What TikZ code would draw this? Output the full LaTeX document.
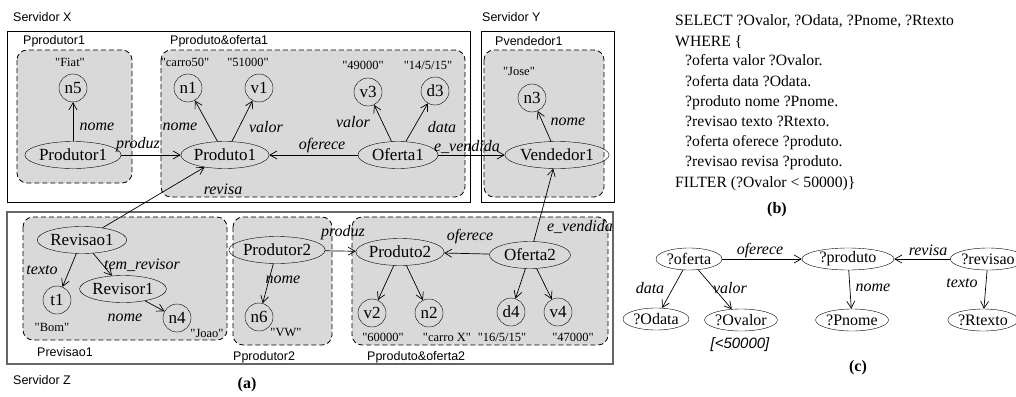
\documentclass[tikz,border=0pt]{standalone}
\usepackage{fontspec}
\setmainfont{Liberation Serif}
\setsansfont{Liberation Sans}
\newfontfamily\valfont{Liberation Serif}
\usetikzlibrary{shapes.geometric,arrows.meta}
\definecolor{partfill}{RGB}{217,217,217}
\begin{document}
\begin{tikzpicture}[x=1pt,y=-1pt,
  ell/.style={draw,ellipse,inner sep=0pt,minimum height=27pt,font=\fontsize{17}{20}\selectfont},
  qell/.style={draw,ellipse,inner sep=0pt,minimum height=22pt,font=\fontsize{16}{18}\selectfont},
  circ/.style={draw,circle,inner sep=0pt,minimum size=28pt,font=\fontsize{17}{20}\selectfont},
  arr/.style={-{Straight Barb[length=7pt,width=8pt]},line width=0.7pt},
  elab/.style={font=\fontsize{16}{18}\selectfont\itshape,inner sep=0pt},
  val/.style={font=\valfont\fontsize{12.5}{14}\selectfont,inner sep=0pt},
  slab/.style={font=\sffamily\fontsize{12.5}{14}\selectfont,inner sep=0pt,anchor=west},
  server/.style={draw,line width=0.8pt},
  serverz/.style={draw=black!60,line width=1.4pt},
  part/.style={draw,dash pattern=on 5pt off 3pt,fill=partfill,rounded corners=10pt,line width=0.8pt},
  code/.style={font=\fontsize{15.7}{18}\selectfont,inner sep=0pt,anchor=west,text height=11pt,text depth=3pt},
]
\useasboundingbox (0,0) rectangle (1016,396);

% servers
\draw[server] (7,31) rectangle (470,202);
\draw[server] (481,31) rectangle (614,202);
\draw[serverz] (7,212) rectangle (613,364);
\node[slab] (sx) at (13,17) {Servidor X};
\node[slab] (sy) at (482,17) {Servidor Y};
\node[slab] (sz) at (13,380) {Servidor Z};

% partitions
\draw[part] (17,50) rectangle (132,183);
\draw[part] (161,50) rectangle (465,197);
\draw[part] (484,50) rectangle (604,197);
\draw[part] (23,217) rectangle (227,340);
\draw[part] (233,217) rectangle (332,345);
\draw[part] (352,217) rectangle (608,345);
\node[slab] (lp1) at (23,41) {Pprodutor1};
\node[slab] (lpo1) at (170,41) {Pproduto\&oferta1};
\node[slab] (lpv1) at (495,41) {Pvendedor1};
\node[slab] (lr1) at (37,352) {Previsao1};
\node[slab] (lp2) at (233,357) {Pprodutor2};
\node[slab] (lpo2) at (367,357) {Pproduto\&oferta2};

% nodes server X / Y
\node[circ] (n5) at (73,88) {n5};
\node[val] (vfiat) at (70,62) {"Fiat"};
\node[ell,minimum width=82pt] (pr1) at (73,155) {Produtor1};
\node[circ] (n1) at (188,88) {n1};
\node[val] (vc50) at (185,62) {"carro50"};
\node[circ] (v1) at (259,88) {v1};
\node[val] (v51) at (248,62) {"51000"};
\node[ell,minimum width=72pt] (p1) at (225,155) {Produto1};
\node[circ] (v3) at (368,92) {v3};
\node[val] (v49) at (363,65) {"49000"};
\node[circ] (d3) at (435,91) {d3};
\node[val] (vd3) at (428,65) {"14/5/15"};
\node[ell,minimum width=80pt] (o1) at (398,155) {Oferta1};
\node[circ] (n3) at (532,98) {n3};
\node[val] (vjose) at (519,71) {"Jose"};
\node[ell,minimum width=88pt] (vd1) at (557,155) {Vendedor1};

% nodes server Z
\node[ell,minimum width=82pt] (r1) at (82,240) {Revisao1};
\node[circ] (t1) at (57,300) {t1};
\node[val] (vbom) at (52,327) {"Bom"};
\node[ell,minimum width=74pt] (rv1) at (123,289) {Revisor1};
\node[circ] (n4) at (177,318) {n4};
\node[val] (vjoao) at (207,333) {"Joao"};
\node[ell,minimum width=81pt] (pr2) at (277,250) {Produtor2};
\node[circ] (n6) at (259,317) {n6};
\node[val] (vvw) at (286,332) {"VW"};
\node[ell,minimum width=80pt] (p2) at (400,252) {Produto2};
\node[circ] (v2) at (372,313) {v2};
\node[circ] (n2) at (429,313) {n2};
\node[val] (v60) at (383,337) {"60000"};
\node[val] (vcx) at (447,337) {"carro X"};
\node[ell,minimum width=81pt] (o2) at (530,255) {Oferta2};
\node[circ] (d4) at (511,312) {d4};
\node[circ] (v4) at (558,312) {v4};
\node[val] (vd4) at (502,337) {"16/5/15"};
\node[val] (v47) at (573,337) {"47000"};

% edges (a)
\draw[arr] (pr1) -- (n5);
\draw[arr] (pr1) -- (p1);
\draw[arr] (p1) -- (n1);
\draw[arr] (p1) -- (v1);
\draw[arr] (o1) -- (p1);
\draw[arr] (o1) -- (v3);
\draw[arr] (o1) -- (d3);
\draw[arr] (o1) -- (vd1);
\draw[arr] (vd1) -- (n3);
\draw[arr] (r1) -- (p1);
\draw[arr] (o2) -- (vd1);
\draw[arr] (r1) -- (t1);
\draw[arr] (r1) -- (rv1);
\draw[arr] (rv1) -- (n4);
\draw[arr] (pr2) -- (n6);
\draw[arr] (pr2) -- (p2);
\draw[arr] (o2) -- (p2);
\draw[arr] (p2) -- (v2);
\draw[arr] (p2) -- (n2);
\draw[arr] (o2) -- (d4);
\draw[arr] (o2) -- (v4);

\node[elab] (l1) at (97,127) {nome};
\node[elab] (l2) at (138,145) {produz};
\node[elab] (l3) at (180,127) {nome};
\node[elab] (l4) at (266,127) {valor};
\node[elab] (l5) at (322,146) {oferece};
\node[elab] (l6) at (353,122) {valor};
\node[elab] (l7) at (442,127) {data};
\node[elab] (l8) at (467,147) {e\_vendida};
\node[elab] (l9) at (568,122) {nome};
\node[elab] (l10) at (223,189) {revisa};
\node[elab] (l11) at (42,270) {texto};
\node[elab] (l12) at (142,265) {tem\_revisor};
\node[elab] (l13) at (125,318) {nome};
\node[elab] (l14) at (283,280) {nome};
\node[elab] (l15) at (343,233) {produz};
\node[elab] (l16) at (470,237) {oferece};
\node[elab] (l17) at (580,227) {e\_vendida};
\node[font=\bfseries\fontsize{16}{18}\selectfont,inner sep=0pt] (capa) at (247,385) {(a)};

% (b)
\node[code] (b1) at (675,22) {SELECT ?Ovalor, ?Odata, ?Pnome, ?Rtexto};
\node[code] (b2) at (675,42) {WHERE \{};
\node[code] (b3) at (685,62) {?oferta valor ?Ovalor.};
\node[code] (b4) at (685,82) {?oferta data ?Odata.};
\node[code] (b5) at (685,102) {?produto nome ?Pnome.};
\node[code] (b6) at (685,122) {?revisao texto ?Rtexto.};
\node[code] (b7) at (685,142) {?oferta oferece ?produto.};
\node[code] (b8) at (685,162) {?revisao revisa ?produto.};
\node[code] (b9) at (675,183) {FILTER (?Ovalor < 50000)\}};
\node[font=\bfseries\fontsize{16}{18}\selectfont,inner sep=0pt] (capb) at (777,210) {(b)};

% (c)
\node[qell,minimum width=66pt] (qo) at (689,259) {?oferta};
\node[qell,minimum width=92pt] (qp) at (848,259) {?produto};
\node[qell,minimum width=56pt] (qr) at (988,259) {?revisao};
\node[qell,minimum width=66pt] (qod) at (656,319) {?Odata};
\node[qell,minimum width=66pt] (qov) at (741,320) {?Ovalor};
\node[qell,minimum width=68pt] (qpn) at (852,320) {?Pnome};
\node[qell,minimum width=64pt] (qrt) at (983,320) {?Rtexto};
\draw[arr] (qo) -- (qp);
\draw[arr] (qr) -- (qp);
\draw[arr] (qo) -- (qod);
\draw[arr] (qo) -- (qov);
\draw[arr] (qp) -- (qpn);
\draw[arr] (qr) -- (qrt);
\node[elab] (c1) at (760,251) {oferece};
\node[elab] (c2) at (928,250) {revisa};
\node[elab] (c3) at (650,288) {data};
\node[elab] (c4) at (730,288) {valor};
\node[elab] (c5) at (873,288) {nome};
\node[elab] (c6) at (962,283) {texto};
\node[font=\sffamily\itshape\fontsize{15}{17}\selectfont,inner sep=0pt] (cf) at (740,345) {[<50000]};
\node[font=\bfseries\fontsize{16}{18}\selectfont,inner sep=0pt] (capc) at (858,368) {(c)};
\end{tikzpicture}
\end{document}
